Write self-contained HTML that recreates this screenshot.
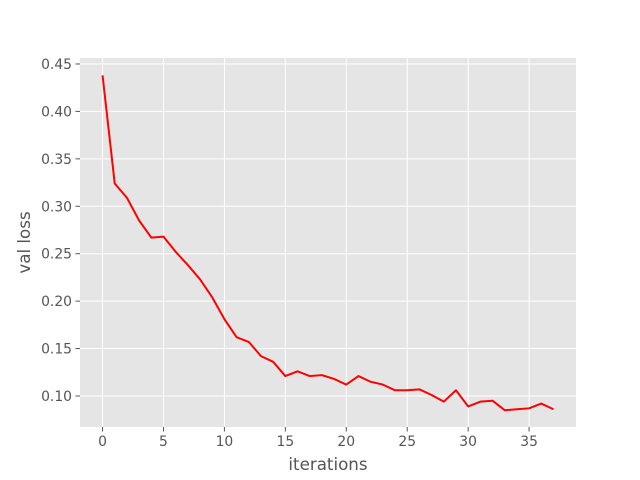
<!DOCTYPE html>
<html><head><meta charset="utf-8"><style>
body{margin:0;background:#fff;}
svg{display:block;font-family:"DejaVu Sans","Liberation Sans",sans-serif;}
</style></head><body>
<svg id="chart" width="640" height="480"></svg>
<script>
const iterations = [0,1,2,3,4,5,6,7,8,9,10,11,12,13,14,15,16,17,18,19,20,21,22,23,24,25,26,27,28,29,30,31,32,33,34,35,36,37];
const valLoss = [0.438,0.324,0.309,0.285,0.267,0.268,0.252,0.238,0.223,0.204,0.181,0.162,0.157,0.142,0.136,0.121,0.126,0.121,0.122,0.118,0.112,0.121,0.115,0.112,0.106,0.106,0.107,0.101,0.094,0.106,0.089,0.094,0.095,0.085,0.086,0.087,0.092,0.086];
const xTicks = [0,5,10,15,20,25,30,35];
const yTicks = [0.10,0.15,0.20,0.25,0.30,0.35,0.40,0.45];

const L=80,R=576,T=58,B=427;
const xMin=-1.85,xMax=38.85,yMin=0.0673,yMax=0.4563;
const xs=v=>L+(v-xMin)/(xMax-xMin)*(R-L);
const ys=v=>B-(v-yMin)/(yMax-yMin)*(B-T);
const NS="http://www.w3.org/2000/svg";
const svg=document.getElementById('chart');
function mk(tag,attrs,parent){const e=document.createElementNS(NS,tag);for(const k in attrs)e.setAttribute(k,attrs[k]);(parent||svg).appendChild(e);return e;}

const bg=mk('rect',{x:L,y:T,width:R-L,height:B-T,fill:'#e5e5e5'});



xTicks.forEach(t=>{
  const x=xs(t);
  const g=mk('line',{x1:x,x2:x,y1:T,y2:B,stroke:'#fff','stroke-width':1});
  
  
  const tk=mk('line',{x1:x,x2:x,y1:B,y2:B+4.5,stroke:'#555','stroke-width':1});
  
  
  const lb=mk('text',{x:x,y:B+19,'text-anchor':'middle','font-size':'13.9px',fill:'#555'});
  lb.textContent=t;
  
  
});
yTicks.forEach(t=>{
  const y=ys(t);
  const g=mk('line',{x1:L,x2:R,y1:y,y2:y,stroke:'#fff','stroke-width':1});
  
  
  const tk=mk('line',{x1:L-4.5,x2:L,y1:y,y2:y,stroke:'#555','stroke-width':1});
  
  
  const lb=mk('text',{x:L-8,y:y+5,'text-anchor':'end','font-size':'13.9px',fill:'#555'});
  lb.textContent=t.toFixed(2);
  
  
});

const pts=iterations.map((v,i)=>xs(v).toFixed(2)+','+ys(valLoss[i]).toFixed(2)).join(' ');
const line=mk('polyline',{points:pts,fill:'none',stroke:'#ff0000','stroke-width':2,'stroke-linejoin':'round'});



const xl=mk('text',{x:(L+R)/2,y:470,'text-anchor':'middle','font-size':'16.7px',fill:'#555'});
xl.textContent='iterations';


const yl=mk('text',{x:0,y:0,'text-anchor':'middle','font-size':'16.7px',fill:'#555',transform:'translate(30,'+((T+B)/2)+') rotate(-90)'});
yl.textContent='val loss';


</script>
</body></html>
